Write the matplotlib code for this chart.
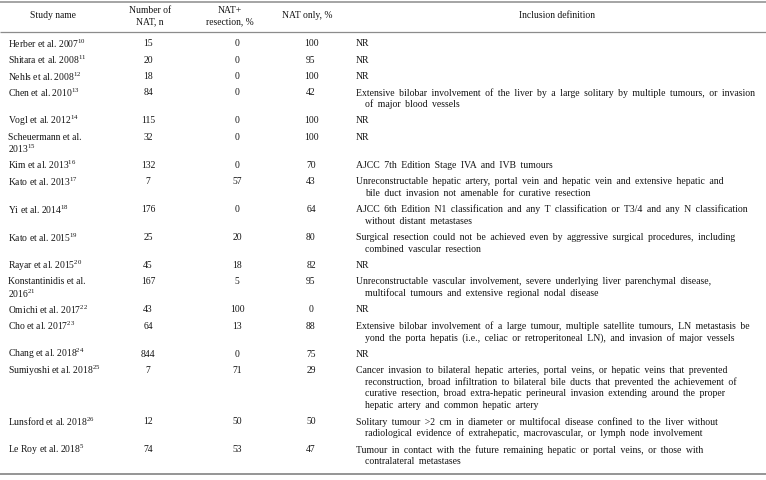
"""Tabell: studier med NAT, andel resektion och inklusionsdefinition."""

import matplotlib

matplotlib.use("Agg")

import matplotlib.pyplot as plt  # noqa: E402

plt.rcParams["font.family"] = ["Liberation Serif", "DejaVu Serif"]
plt.rcParams["mathtext.fontset"] = "custom"
plt.rcParams["mathtext.rm"] = "Liberation Serif"
plt.rcParams["mathtext.default"] = "regular"

HEADERS = ["Study name", "Number of\nNAT, n", "NAT+\nresection, %", "NAT only, %", "Inclusion definition"]

STUDIES = [
    ["Herber et al. 2007"],
    ["Shitara et al. 2008"],
    ["Nehls et al. 2008"],
    ["Chen et al. 2010"],
    ["Vogl et al. 2012"],
    ["Scheuermann et al.", "2013"],
    ["Kim et al. 2013"],
    ["Kato et al. 2013"],
    ["Yi et al. 2014"],
    ["Kato et al. 2015"],
    ["Rayar et al. 2015"],
    ["Konstantinidis et al.", "2016"],
    ["Omichi et al. 2017"],
    ["Cho et al. 2017"],
    ["Chang et al. 2018"],
    ["Sumiyoshi et al. 2018"],
    ["Lunsford et al. 2018"],
    ["Le Roy et al. 2018"],
]
REFS = [10, 11, 12, 13, 14, 15, 16, 17, 18, 19, 20, 21, 22, 23, 24, 25, 26, 5]
N_NAT = [15, 20, 18, 84, 115, 32, 132, 7, 176, 25, 45, 167, 43, 64, 844, 7, 12, 74]
RESECTION = [0, 0, 0, 0, 0, 0, 0, 57, 0, 20, 18, 5, 100, 13, 0, 71, 50, 53]
NAT_ONLY = [100, 95, 100, 42, 100, 100, 70, 43, 64, 80, 82, 95, 0, 88, 75, 29, 50, 47]

DEFINITIONS = [
    ["NR"],
    ["NR"],
    ["NR"],
    ["Extensive bilobar involvement of the liver by a large solitary by multiple tumours, or invasion",
     "of major blood vessels"],
    ["NR"],
    ["NR"],
    ["AJCC 7th Edition Stage IVA and IVB tumours"],
    ["Unreconstructable hepatic artery, portal vein and hepatic vein and extensive hepatic and",
     "bile duct invasion not amenable for curative resection"],
    ["AJCC 6th Edition N1 classification and any T classification or T3/4 and any N classification",
     "without distant metastases"],
    ["Surgical resection could not be achieved even by aggressive surgical procedures, including",
     "combined vascular resection"],
    ["NR"],
    ["Unreconstructable vascular involvement, severe underlying liver parenchymal disease,",
     "multifocal tumours and extensive regional nodal disease"],
    ["NR"],
    ["Extensive bilobar involvement of a large tumour, multiple satellite tumours, LN metastasis be",
     "yond the porta hepatis (i.e., celiac or retroperitoneal LN), and invasion of major vessels"],
    ["NR"],
    ["Cancer invasion to bilateral hepatic arteries, portal veins, or hepatic veins that prevented",
     "reconstruction, broad infiltration to bilateral bile ducts that prevented the achievement of",
     "curative resection, broad extra-hepatic perineural invasion extending around the proper",
     "hepatic artery and common hepatic artery"],
    ["Solitary tumour >2 cm in diameter or multifocal disease confined to the liver without",
     "radiological evidence of extrahepatic, macrovascular, or lymph node involvement"],
    ["Tumour in contact with the future remaining hepatic or portal veins, or those with",
     "contralateral metastases"],
]

TEXT = "#141414"
RULE = "#8c8c8c"
FS = 6.9
FS_DEF = 7.0
LINE = 11.7
PAD = 4.6
WIDE = " \u2009"  # bredare ordmellanrum som i originalet


def wide(s: str) -> str:
    return s.replace(" ", WIDE)


fig = plt.figure(figsize=(7.66, 4.81), dpi=100)
ax = fig.add_axes([0, 0, 1, 1])
ax.set_xlim(0, 766)
ax.set_ylim(481, 0)
ax.axis("off")

# Linjer: topp, under rubrik, botten
ax.hlines(2.5, 0, 766, color=RULE, linewidth=1.1)
ax.hlines(33, 0, 766, color=RULE, linewidth=0.9)
ax.hlines(475, 0, 766, color=RULE, linewidth=1.3)

header_x = [53, 150, 230, 307, 557]
for x, label in zip(header_x, HEADERS):
    ax.text(x, 16, label, ha="center", va="center", fontsize=FS, color=TEXT, linespacing=1.25)

y = 44.0
for name, ref, n, res, only, definition in zip(STUDIES, REFS, N_NAT, RESECTION, NAT_ONLY, DEFINITIONS):
    for k, part in enumerate(name):
        label = part + (f"$^{{{ref}}}$" if k == len(name) - 1 else "")
        ax.text(8, y + k * LINE, label, ha="left", va="center", fontsize=FS, color=TEXT)
    ax.text(148, y, str(n), ha="center", va="center", fontsize=FS, color=TEXT)
    ax.text(237, y, str(res), ha="center", va="center", fontsize=FS, color=TEXT)
    ax.text(311, y, str(only), ha="center", va="center", fontsize=FS, color=TEXT)
    for k, part in enumerate(definition):
        ax.text(356 if k == 0 else 365, y + k * LINE, wide(part), ha="left", va="center",
                fontsize=FS_DEF, color=TEXT)
    y += max(len(name), len(definition)) * LINE + PAD

fig.savefig("out.png", dpi=100)
